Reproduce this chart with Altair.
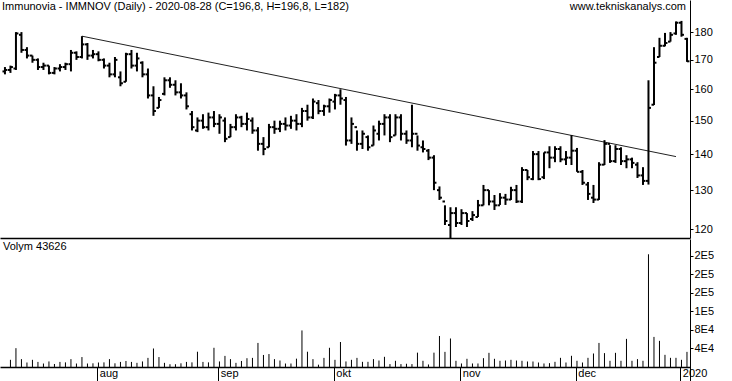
import altair as alt
import pandas as pd

# ---- data ----
opens = [166, 166.5, 167, 179, 173.5, 171.5, 170, 167.5, 168, 165.5,
         167, 167.5, 168.5, 172.5, 171, 175.5, 171.5, 172, 170, 168,
         165, 164, 162.5, 172, 168, 169, 165, 158, 154, 158.5,
         163, 161.5, 159, 158, 152, 147, 150, 148, 151, 149,
         150, 145, 148, 151, 149, 150, 147, 143, 142, 148,
         147.5, 149, 148.5, 150, 149, 153, 151, 155.5, 153, 154.5,
         156, 158, 156.5, 144, 148, 143, 145, 142.5, 146, 149,
         151, 145.5, 151, 146, 144, 146, 142, 141, 139, 130,
         127, 121, 124, 121.5, 124, 122.5, 123, 126, 130, 127,
         126, 128, 127.5, 130, 127, 135.5, 133, 140, 133.5, 140.5,
         139, 141.5, 138.5, 139, 141, 135, 131.5, 128, 127.5, 137,
         143, 138, 141.5, 138, 138.5, 137, 134, 132.5, 155, 171,
         175, 176.5, 179.5, 183.5, 177.5]
highs = [167.5, 168, 180, 180, 174.5, 171.5, 170.5, 169, 168, 167.5,
         168.5, 169, 173.5, 173, 178.5, 176, 173.5, 173, 170.5, 169,
         171, 166, 172.5, 173.5, 172.5, 169.5, 167, 161, 157.5, 164,
         164, 163, 162, 159, 153, 151, 152, 152.5, 153, 152,
         151, 149, 152, 151.5, 152.5, 151, 148, 145, 149, 150,
         150, 151, 151.5, 152, 154, 155, 157, 156.5, 155, 157,
         158.5, 160, 157.5, 151, 147, 147, 145.5, 148.5, 150, 152,
         152, 152, 152, 147, 155, 145.5, 144, 141.5, 139.7, 131,
         126, 125.5, 125.5, 125, 124, 124.5, 127.4, 131.4, 130, 128.7,
         129.2, 129, 130.9, 131.4, 136.3, 135.5, 140.9, 140.9, 140.5, 142.3,
         142.3, 142.3, 140.9, 145.6, 141.8, 135.5, 132.2, 131.4, 137.7, 144.1,
         142.6, 142.6, 142, 139.7, 139, 137.7, 136.3, 163, 174.5, 177.9,
         179.7, 180, 184, 184.2, 177.9]
lows = [165, 165.5, 166.5, 172.5, 170.5, 169, 166.5, 166.5, 165, 165,
        166, 166.5, 166, 170, 170.5, 170, 170.5, 169.5, 167, 164,
        164, 161, 162.5, 167, 166, 164, 157, 151.5, 154, 158,
        160.5, 158, 157, 153.5, 147, 146.5, 147.5, 147, 148, 146,
        143.5, 145, 147, 148, 147, 146, 141, 139.7, 142, 146,
        146.5, 147, 147.5, 147, 148, 150, 150.5, 152, 151.5, 152.5,
        153.5, 155, 142.5, 143, 141, 141.5, 141, 142.5, 144, 145.5,
        143.5, 145.5, 144, 143, 142, 141, 140.5, 138.3, 130, 127.4,
        121, 117.8, 120.5, 121, 120.5, 122, 123, 126, 126, 124.8,
        126.1, 126.1, 127.4, 126.6, 126.6, 132.7, 132.7, 132.7, 133, 136,
        137.7, 137.7, 136.9, 136.9, 135, 131.4, 127.4, 126.6, 127.4, 136.9,
        137.5, 137.5, 136.9, 136, 136, 133.3, 131.4, 131.5, 154.9, 171,
        174.8, 176.5, 179, 178.3, 169.3]
closes = [166.5, 167.5, 179.5, 173.5, 171.5, 170, 167.5, 168, 165.5, 167,
          167.5, 168.5, 172.5, 171, 175.5, 171.5, 172, 170, 168, 165,
          170, 162, 172, 168, 170.5, 165, 158, 153, 156.5, 163,
          161.5, 159, 158, 154.5, 148, 150, 148, 151, 149, 151,
          144.5, 148, 151, 149, 150.5, 147, 143, 141.5, 148, 147.5,
          149, 148.5, 150, 149, 153, 151, 156, 153, 154.5, 156.5,
          158, 157, 144, 149, 143, 146, 142, 147, 149, 151,
          145, 151, 146, 144, 146, 142.5, 141.5, 139, 132, 128,
          122, 124, 121.5, 124, 122, 123.5, 126, 130, 127, 126,
          128, 127.5, 130, 127, 135.5, 133.5, 140, 133, 140.5, 139,
          141.5, 138.5, 139, 141, 135, 132, 129, 127.5, 137, 143,
          138, 141.5, 138, 138.5, 137.5, 134, 132.5, 154, 169, 175,
          176, 179, 183.5, 179, 169.5]
volumes = [0, 15500, 40700, 17000, 9700, 15500, 11000, 7500, 12000, 6500,
           11000, 10000, 17000, 7500, 21500, 7500, 8000, 9700, 10000, 17000,
           8000, 11000, 13000, 11000, 9000, 12000, 19700, 40000, 21500, 9000,
           6000, 6000, 8000, 11000, 10000, 33000, 11000, 10000, 41500, 12000,
           24000, 17000, 9000, 13000, 19000, 19700, 52000, 26000, 28000, 17000,
           14000, 7500, 7500, 18000, 79000, 33000, 17000, 5000, 19700, 41500,
           15500, 54000, 12000, 15500, 19700, 11200, 11200, 17000, 14000, 22000,
           6300, 13400, 6300, 7000, 6300, 31000, 13400, 5500, 31000, 67000,
           32700, 61600, 13400, 7600, 17700, 7600, 7600, 19100, 30600, 17700,
           13400, 14000, 15500, 14000, 13400, 11900, 11900, 9700, 7600, 8300,
           11200, 19800, 9700, 24200, 13400, 9700, 19800, 29200, 52000, 30000,
           13400, 30600, 13400, 60800, 13400, 17000, 13400, 243600, 65000, 56500,
           26300, 19800, 19800, 15500, 32700]

month_idx = [17, 39, 60, 83, 104, 123]
month_lbl = ["aug", "sep", "okt", "nov", "dec", "2020"]

trend_idx = [14, 122]
trend_px = [178.5, 139.3]

price_ticks = [120, 130, 140, 150, 160, 170, 180]
vol_ticks = [40000, 80000, 120000, 160000, 200000, 240000]

title_txt = "Immunovia - IMMNOV (Daily) - 2020-08-28 (C=196,8, H=196,8, L=182)"
site_txt = "www.tekniskanalys.com"
vol_txt = "Volym 43626"

# ---- tables ----
n = len(closes)
df = pd.DataFrame({"i": list(range(n)), "o": opens, "h": highs, "l": lows,
                   "c": closes, "v": volumes})
df["il"] = df["i"] - 0.45
df["ir"] = df["i"] + 0.45
trend = pd.DataFrame({"i": trend_idx, "p": trend_px})

FONT = "Liberation Sans"
W = 690
XDOM = [-0.9, 124.55]
xs = alt.Scale(domain=XDOM, nice=False, zero=False)
ps = alt.Scale(type="log", domain=[117.8, 192.3], nice=False, zero=False)

yaxis_price = alt.Axis(orient="right", values=price_ticks, title=None, grid=False,
                       domainColor="black", tickColor="black", tickSize=3,
                       labelPadding=1, labelColor="black", labelFontSize=11,
                       labelFont=FONT, labelFlush=False)
xaxis_hidden = alt.Axis(orient="bottom", labels=False, ticks=False, title=None,
                        grid=False, domainColor="black", domainWidth=1.5)

base = alt.Chart(df)
hl = base.mark_rule(color="black", strokeWidth=2).encode(
    x=alt.X("i:Q", scale=xs, axis=xaxis_hidden),
    y=alt.Y("l:Q", scale=ps, axis=yaxis_price),
    y2="h:Q")
op = base.mark_rule(color="black", strokeWidth=2).encode(
    x=alt.X("il:Q", scale=xs), x2="i:Q", y=alt.Y("o:Q", scale=ps))
cl = base.mark_rule(color="black", strokeWidth=2).encode(
    x=alt.X("i:Q", scale=xs), x2="ir:Q", y=alt.Y("c:Q", scale=ps))
tl = alt.Chart(trend).mark_line(color="#222222", strokeWidth=1).encode(
    x=alt.X("i:Q", scale=xs), y=alt.Y("p:Q", scale=ps))
t1 = alt.Chart(pd.DataFrame({"t": [title_txt]})).mark_text(
    align="left", baseline="middle", font=FONT, fontSize=11, color="black").encode(
    text="t:N", x=alt.value(2), y=alt.value(7))
t2 = alt.Chart(pd.DataFrame({"t": [site_txt]})).mark_text(
    align="right", baseline="middle", font=FONT, fontSize=11, color="black").encode(
    text="t:N", x=alt.value(686), y=alt.value(7))

price = alt.layer(tl, hl, op, cl, t1, t2).properties(width=W, height=238)

vaxis = alt.Axis(orient="right", values=vol_ticks, title=None, grid=False,
                 domainColor="black", tickColor="black", tickSize=3,
                 labelPadding=1, labelColor="black", labelFontSize=11,
                 labelFont=FONT, labelFlush=False,
                 labelExpr="replace(upper(format(datum.value, '.0e')), '+', '')")
xaxis_months = alt.Axis(orient="bottom", values=[m - 0.2 for m in month_idx],
                        labelExpr="datum.value < 20 ? 'aug' : datum.value < 40 ? 'sep' : datum.value < 70 ? 'okt' : datum.value < 90 ? 'nov' : datum.value < 110 ? 'dec' : '2020'",
                        title=None, grid=False, domainColor="black", domainWidth=1.5,
                        tickColor="black", tickSize=15, labelAlign="left",
                        labelBaseline="top", labelPadding=-14.5, labelOffset=2,
                        labelColor="black", labelFontSize=11, labelFont=FONT,
                        labelFlush=False)
vs = alt.Scale(domain=[0, 276600], nice=False, zero=True)
vol = alt.Chart(df).mark_rule(color="black", strokeWidth=1).encode(
    x=alt.X("i:Q", scale=xs, axis=xaxis_months),
    y=alt.Y("v:Q", scale=vs, axis=vaxis),
    y2=alt.datum(0))
t3 = alt.Chart(pd.DataFrame({"t": [vol_txt]})).mark_text(
    align="left", baseline="middle", font=FONT, fontSize=11, color="black").encode(
    text="t:N", x=alt.value(3), y=alt.value(8))
ext = alt.Chart(pd.DataFrame({"a": [0]})).mark_rule(color="black", strokeWidth=1).encode(
    x=alt.value(W + 0.5), y=alt.value(128), y2=alt.value(150))
volume = alt.layer(vol, t3, ext).properties(width=W, height=128)

chart = alt.vconcat(price, volume, spacing=0).properties(
    padding=0, background="white").configure_view(stroke=None)

chart.save("out.html", embed_options={"renderer": "svg", "actions": False})
